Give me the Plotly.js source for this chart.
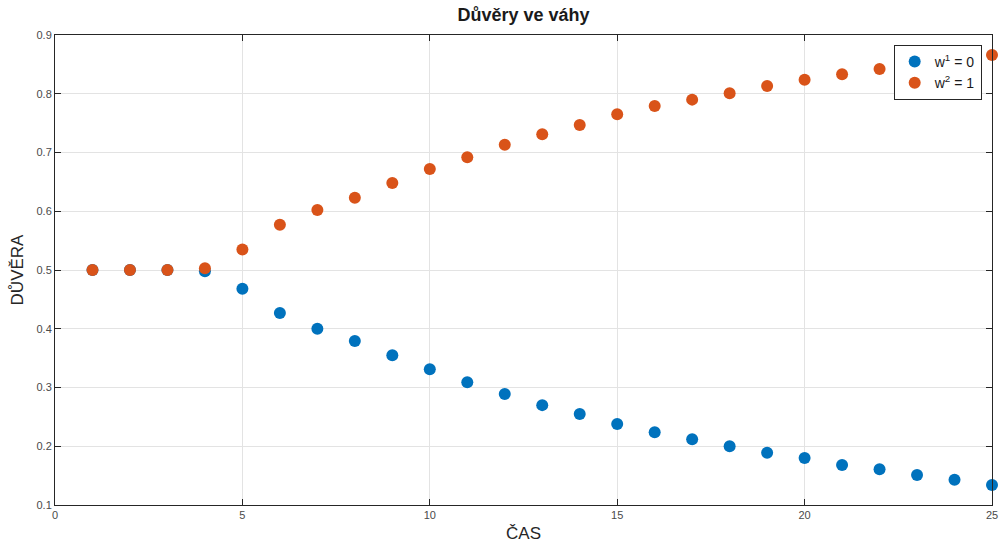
<!DOCTYPE html>
<html>
<head>
<meta charset="utf-8">
<script src="https://cdn.plot.ly/plotly-3.0.1.min.js"></script>
<style>html,body{margin:0;padding:0;background:#fff;}#chart{width:1002px;height:547px;}</style>
</head>
<body>
<div id="chart"></div>
<script>
const time = [1,2,3,4,5,6,7,8,9,10,11,12,13,14,15,16,17,18,19,20,21,22,23,24,25];
const w1 = [0.500,0.500,0.500,0.498,0.468,0.427,0.400,0.379,0.355,0.331,0.309,0.289,0.270,0.255,0.238,0.224,0.212,0.200,0.189,0.180,0.168,0.161,0.151,0.143,0.134];
const w2 = [0.500,0.500,0.500,0.503,0.535,0.577,0.602,0.623,0.648,0.672,0.692,0.713,0.731,0.747,0.765,0.779,0.790,0.801,0.813,0.824,0.833,0.842,0.849,0.857,0.866];
const xTicks = [0,5,10,15,20,25];
const yTicks = [0.1,0.2,0.3,0.4,0.5,0.6,0.7,0.8,0.9];
const names = ['w<sup>1</sup> = 0','w<sup>2</sup> = 1'];

const font = 'Liberation Sans, Arial, Helvetica, sans-serif';
const axisCommon = {
  showline: true, mirror: 'ticks', linecolor: '#262626', linewidth: 1,
  ticks: 'inside', ticklen: 6, tickcolor: '#262626', tickwidth: 1,
  showgrid: true, gridcolor: '#e3e3e3', gridwidth: 1, zeroline: false,
  tickfont: {family: font, size: 11, color: '#4a4a4a'}
};
const traces = [
  {x: time, y: w1, mode: 'markers', type: 'scatter', name: names[0], cliponaxis: false,
   marker: {color: '#0072BD', size: 12}},
  {x: time, y: w2, mode: 'markers', type: 'scatter', name: names[1], cliponaxis: false,
   marker: {color: '#D95319', size: 12}}
];
const layout = {
  width: 1002, height: 547,
  margin: {l: 55, r: 10, t: 35, b: 42},
  paper_bgcolor: '#fff', plot_bgcolor: '#fff',
  font: {family: font, color: '#262626'},
  title: {text: '<b>Důvěry ve váhy</b>', font: {family: font, size: 18, color: '#1a1a1a'}, x: 0.5225, xanchor: 'center', y: 0.985, yanchor: 'top'},
  xaxis: Object.assign({}, axisCommon, {range: [0, 25], tickvals: xTicks, ticktext: xTicks.map(String),
    title: {text: 'ČAS', font: {family: font, size: 17, color: '#262626'}, standoff: 6}}),
  yaxis: Object.assign({}, axisCommon, {range: [0.1, 0.9], tickvals: yTicks, ticktext: yTicks.map(v => v.toFixed(1)),
    title: {text: 'DŮVĚRA', font: {family: font, size: 17, color: '#262626'}, standoff: 8}}),
  showlegend: true,
  legend: {x: 0.989, xanchor: 'right', y: 0.979, yanchor: 'top', bgcolor: '#fff', bordercolor: '#262626', borderwidth: 1,
    font: {family: font, size: 14, color: '#1a1a1a'}, itemsizing: 'constant', tracegroupgap: 0, itemwidth: 30}
};
Plotly.newPlot('chart', traces, layout, {displayModeBar: false, staticPlot: true});
</script>
</body>
</html>
